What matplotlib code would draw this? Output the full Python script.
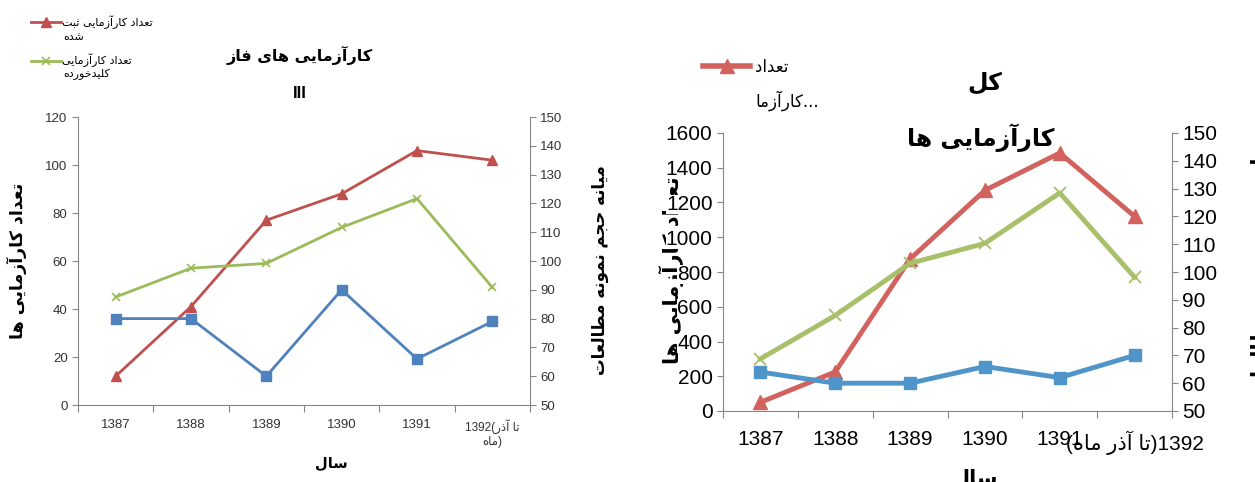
import unicodedata
import matplotlib
matplotlib.use("Agg")
import matplotlib.pyplot as plt
from matplotlib.lines import Line2D

plt.rcParams['font.family'] = ['Liberation Sans', 'DejaVu Sans']

# data
years = ['1387', '1388', '1389', '1390', '1391', '1392']
phase3_registered = [12, 41, 77, 88, 106, 102]
phase3_blinded = [45, 57, 59, 74, 86, 49]
phase3_median = [80, 80, 60, 90, 66, 79]
total_registered = [50, 225, 875, 1270, 1485, 1120]
total_blinded = [300, 550, 850, 965, 1255, 770]
total_median = [64, 60, 60, 66, 62, 70]

# contextual forms: isolated, final, initial, medial
FORMS = {
    '\u0627': ('\uFE8D', '\uFE8E', None, None),
    '\u0622': ('\uFE81', '\uFE82', None, None),
    '\u0628': ('\uFE8F', '\uFE90', '\uFE91', '\uFE92'),
    '\u062A': ('\uFE95', '\uFE96', '\uFE97', '\uFE98'),
    '\u062B': ('\uFE99', '\uFE9A', '\uFE9B', '\uFE9C'),
    '\u062C': ('\uFE9D', '\uFE9E', '\uFE9F', '\uFEA0'),
    '\u062D': ('\uFEA1', '\uFEA2', '\uFEA3', '\uFEA4'),
    '\u062E': ('\uFEA5', '\uFEA6', '\uFEA7', '\uFEA8'),
    '\u062F': ('\uFEA9', '\uFEAA', None, None),
    '\u0630': ('\uFEAB', '\uFEAC', None, None),
    '\u0631': ('\uFEAD', '\uFEAE', None, None),
    '\u0632': ('\uFEAF', '\uFEB0', None, None),
    '\u0633': ('\uFEB1', '\uFEB2', '\uFEB3', '\uFEB4'),
    '\u0634': ('\uFEB5', '\uFEB6', '\uFEB7', '\uFEB8'),
    '\u0637': ('\uFEC1', '\uFEC2', '\uFEC3', '\uFEC4'),
    '\u0639': ('\uFEC9', '\uFECA', '\uFECB', '\uFECC'),
    '\u0641': ('\uFED1', '\uFED2', '\uFED3', '\uFED4'),
    '\u0643': ('\uFED9', '\uFEDA', '\uFEDB', '\uFEDC'),
    '\u0644': ('\uFEDD', '\uFEDE', '\uFEDF', '\uFEE0'),
    '\u0645': ('\uFEE1', '\uFEE2', '\uFEE3', '\uFEE4'),
    '\u0646': ('\uFEE5', '\uFEE6', '\uFEE7', '\uFEE8'),
    '\u0647': ('\uFEE9', '\uFEEA', '\uFEEB', '\uFEEC'),
    '\u0648': ('\uFEED', '\uFEEE', None, None),
    '\u064A': ('\uFEF1', '\uFEF2', '\uFEF3', '\uFEF4'),
    '\u06A9': ('\uFB8E', '\uFB8F', '\uFB90', '\uFB91'),
    '\u06CC': ('\uFBFC', '\uFBFD', '\uFBFE', '\uFBFF'),
}


def fa(text):
    # shape persian letters and put them in visual (left to right) order
    lines = []
    for s in unicodedata.normalize('NFC', text).split('\n'):
        out = []
        for i, c in enumerate(s):
            if c not in FORMS:
                out.append(c)
                continue
            iso, fin, ini, med = FORMS[c]
            prev = s[i - 1] if i > 0 else ''
            nxt = s[i + 1] if i + 1 < len(s) else ''
            pj = prev in FORMS and FORMS[prev][2] is not None
            nj = nxt in FORMS
            if pj and nj and med:
                out.append(med)
            elif pj:
                out.append(fin)
            elif nj and ini:
                out.append(ini)
            else:
                out.append(iso)
        lines.append(''.join(reversed(out)))
    return '\n'.join(lines)


FA = 'DejaVu Sans'
GRAY = '#868686'
W, H = 1255, 482

fig = plt.figure(figsize=(12.55, 4.82), dpi=100)


def setup_axes(ax, axr, xlabels, tsize, pad):
    x = range(len(years))
    ax.set_xlim(-0.5, len(years) - 0.5)
    ax.set_xticks([i - 0.5 for i in range(len(years) + 1)])
    ax.set_xticklabels([])
    ax.set_xticks(list(x), minor=True)
    ax.set_xticklabels(xlabels, minor=True, fontsize=tsize)
    ax.tick_params(axis='x', which='major', length=5, color=GRAY, direction='out')
    ax.tick_params(axis='x', which='minor', length=0, pad=pad)
    ax.tick_params(axis='y', length=4, color=GRAY, labelsize=tsize)
    axr.tick_params(axis='y', length=4, color=GRAY, labelsize=tsize)
    for a in (ax, axr):
        a.spines['top'].set_visible(False)
        for sp in a.spines.values():
            sp.set_color(GRAY)
    ax.spines['right'].set_visible(False)
    axr.spines['left'].set_visible(False)
    axr.spines['bottom'].set_visible(False)


# ---- left chart: phase III trials ----
ax1 = fig.add_axes([78 / W, 1 - 405 / H, 452 / W, 288 / H])
ax1r = ax1.twinx()
x = list(range(len(years)))
l_red, = ax1.plot(x, phase3_registered, color='#C0504D', lw=2, marker='^', ms=7)
l_grn, = ax1.plot(x, phase3_blinded, color='#9BBB59', lw=2, marker='x', ms=6, mew=1.2)
ax1r.plot(x, phase3_median, color='#4F81BD', lw=2, marker='s', ms=6.5)
ax1.set_ylim(0, 120)
ax1.set_yticks(range(0, 121, 20))
ax1r.set_ylim(50, 150)
ax1r.set_yticks(range(50, 151, 10))
left_xlabels = years[:-1] + ['1392(' + fa('تا آذر') + '\n' + fa('ماه') + ')']
setup_axes(ax1, ax1r, left_xlabels, 9.5, 10)
ax1.get_xticklabels(minor=True)[-1].set_fontsize(8.5)
for a in (ax1, ax1r):
    for lab in a.get_yticklabels() + a.get_xticklabels(minor=True):
        lab.set_color('#333333')

ax1.set_ylabel(fa('تعداد کارآزمایی ها'), family=FA, fontsize=12.5, fontweight='bold')
ax1.yaxis.set_label_coords(-0.112, 0.5)
ax1r.set_ylabel(fa('میانه حجم نمونه مطالعات'), family=FA, fontsize=12, fontweight='bold', rotation=90)
ax1r.yaxis.set_label_coords(1.135, 0.47)
ax1.set_xlabel(fa('سال'), family=FA, fontsize=10.5, fontweight='bold')
ax1.xaxis.set_label_coords(0.56, -0.175)

fig.text(300 / W, 1 - 55 / H, fa('کارآزمایی های فاز'), family=FA, fontsize=11.5,
         fontweight='bold', ha='center', va='center')
fig.text(300 / W, 1 - 93 / H, 'III', fontsize=12, fontweight='bold', ha='center', va='center')

fig.legend([l_red, l_grn], [fa('تعداد کارآزمایی ثبت'), fa('تعداد کارآزمایی')],
           loc='upper left', bbox_to_anchor=(25 / W, 1 - 10 / H), frameon=False,
           prop={'family': FA, 'size': 8}, handlelength=2.7, handletextpad=0.1,
           labelspacing=2.2, borderpad=0)
fig.text(63 / W, 1 - 37 / H, fa('شده'), family=FA, fontsize=8, ha='left', va='center')
fig.text(63 / W, 1 - 74 / H, fa('کلیدخورده'), family=FA, fontsize=8, ha='left', va='center')

# ---- right chart: all trials ----
ax2 = fig.add_axes([723 / W, 1 - 411 / H, 449 / W, 278 / H])
ax2r = ax2.twinx()
r_red, = ax2.plot(x, total_registered, color='#D2625E', lw=3.5, marker='^', ms=10)
ax2.plot(x, total_blinded, color='#A8C06A', lw=3.5, marker='x', ms=9, mew=1.3)
ax2r.plot(x, total_median, color='#4F95CA', lw=3.5, marker='s', ms=9)
ax2.set_ylim(0, 1600)
ax2.set_yticks(range(0, 1601, 200))
ax2r.set_ylim(50, 150)
ax2r.set_yticks(range(50, 151, 10))
right_xlabels = years[:-1] + ['(' + fa('تا آذر ماه') + ')1392']
setup_axes(ax2, ax2r, right_xlabels, 15, 14)
ax2.get_xticklabels(minor=True)[-1].set_ha('center')
# tick labels sit on white boxes, the axis title shows through only between them
for lab in ax2.get_yticklabels():
    lab.set_bbox(dict(facecolor='white', edgecolor='none', pad=0))

fig.text(672 / W, 1 - 270 / H, fa('تعداد کارآزمایی ها'), family=FA, fontsize=15,
         fontweight='bold', rotation=90, ha='center', va='center', zorder=-1)
ax2r.set_ylabel(fa('میانه حجم نمونه مطالعات'), family=FA, fontsize=15, fontweight='bold', rotation=90)
ax2r.yaxis.set_label_coords(1.175, 0.52)
ax2.set_xlabel(fa('سال'), family=FA, fontsize=15, fontweight='bold')
ax2.xaxis.set_label_coords(0.56, -0.205)

fig.text(985 / W, 1 - 83 / H, fa('کل'), family=FA, fontsize=17, fontweight='bold',
         ha='center', va='center')
fig.text(981 / W, 1 - 138 / H, fa('کارآزمایی ها'), family=FA, fontsize=17, fontweight='bold',
         ha='center', va='center')

fig.legend([Line2D([0], [0], color='#D2625E', lw=4, marker='^', ms=10)], [fa('تعداد')],
           loc='upper left', bbox_to_anchor=(695 / W, 1 - 50 / H), frameon=False,
           prop={'family': FA, 'size': 12}, handlelength=2.8, handletextpad=0.3, borderpad=0)
fig.text(755 / W, 1 - 101 / H, fa('کارآزما') + '...', family=FA, fontsize=12, ha='left', va='center')

fig.savefig('out.png', dpi=100)
